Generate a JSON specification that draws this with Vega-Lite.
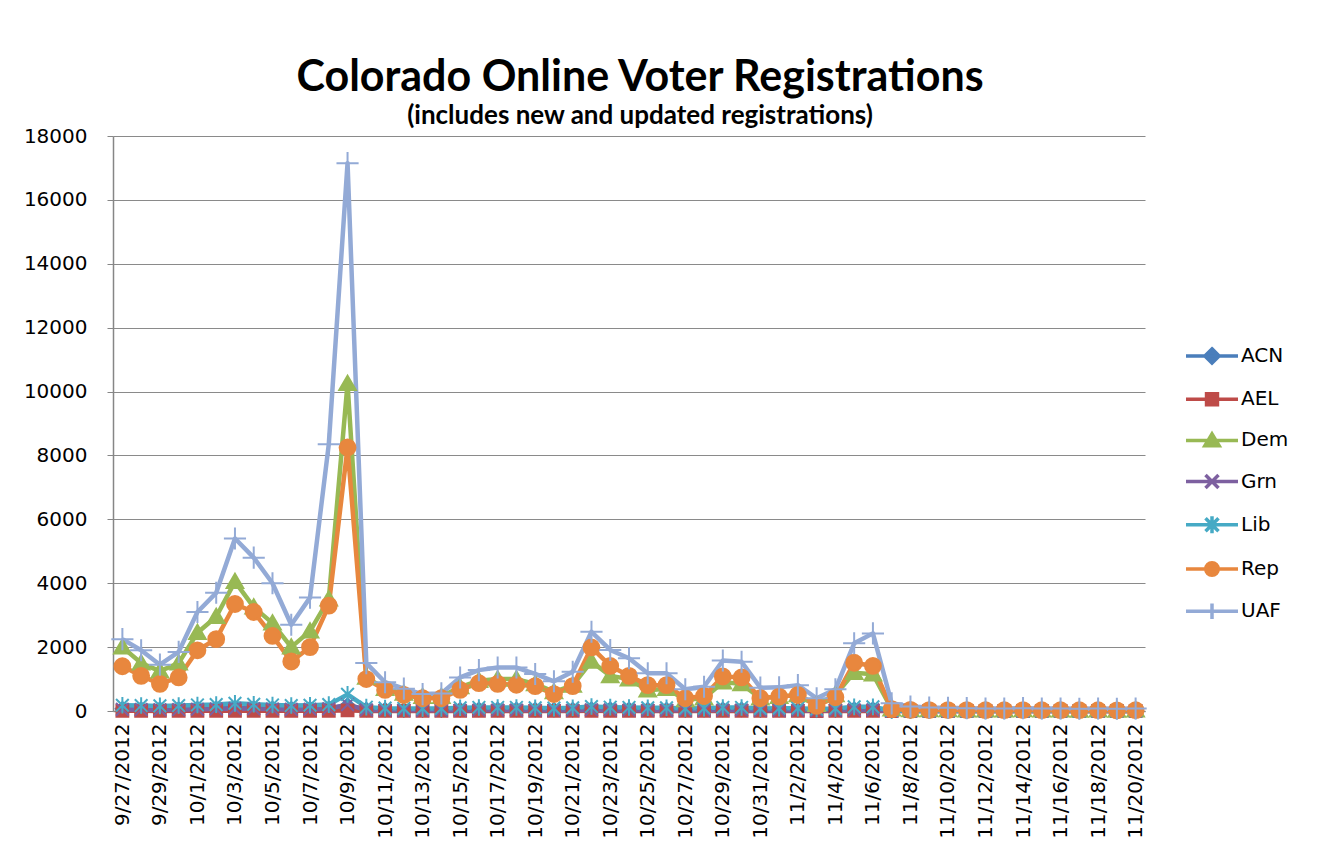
{
"$schema": "https://vega.github.io/schema/vega-lite/v6.json",
"width": 1032, "height": 575,
"autosize": {"type": "none"},
"padding": {"left": 113, "top": 136, "right": 177, "bottom": 140},
"background": "white",
"title": {"text": "Colorado Online Voter Registrations", "subtitle": "(includes new and updated registrations)", "font": "Lato", "fontSize": 43, "fontWeight": "bold", "subtitleFont": "Lato", "subtitleFontSize": 26, "subtitleFontWeight": "bold", "anchor": "middle", "dx": 11, "offset": -3, "color": "black", "subtitleColor": "black", "subtitlePadding": 3},
"config": {"view": {"stroke": null}},
"datasets": {"reg": [
{"d":"9/27/2012","s":"ACN","v":70},{"d":"9/28/2012","s":"ACN","v":60},{"d":"9/29/2012","s":"ACN","v":55},{"d":"9/30/2012","s":"ACN","v":60},{"d":"10/1/2012","s":"ACN","v":75},{"d":"10/2/2012","s":"ACN","v":80},{"d":"10/3/2012","s":"ACN","v":100},{"d":"10/4/2012","s":"ACN","v":90},{"d":"10/5/2012","s":"ACN","v":80},{"d":"10/6/2012","s":"ACN","v":70},{"d":"10/7/2012","s":"ACN","v":75},{"d":"10/8/2012","s":"ACN","v":85},{"d":"10/9/2012","s":"ACN","v":180},{"d":"10/10/2012","s":"ACN","v":50},{"d":"10/11/2012","s":"ACN","v":40},{"d":"10/12/2012","s":"ACN","v":35},{"d":"10/13/2012","s":"ACN","v":35},{"d":"10/14/2012","s":"ACN","v":35},{"d":"10/15/2012","s":"ACN","v":45},{"d":"10/16/2012","s":"ACN","v":50},{"d":"10/17/2012","s":"ACN","v":50},{"d":"10/18/2012","s":"ACN","v":50},{"d":"10/19/2012","s":"ACN","v":45},{"d":"10/20/2012","s":"ACN","v":40},{"d":"10/21/2012","s":"ACN","v":45},{"d":"10/22/2012","s":"ACN","v":60},{"d":"10/23/2012","s":"ACN","v":55},{"d":"10/24/2012","s":"ACN","v":50},{"d":"10/25/2012","s":"ACN","v":45},{"d":"10/26/2012","s":"ACN","v":45},{"d":"10/27/2012","s":"ACN","v":35},{"d":"10/28/2012","s":"ACN","v":40},{"d":"10/29/2012","s":"ACN","v":50},{"d":"10/30/2012","s":"ACN","v":50},{"d":"10/31/2012","s":"ACN","v":35},{"d":"11/1/2012","s":"ACN","v":40},{"d":"11/2/2012","s":"ACN","v":40},{"d":"11/3/2012","s":"ACN","v":30},{"d":"11/4/2012","s":"ACN","v":35},{"d":"11/5/2012","s":"ACN","v":55},{"d":"11/6/2012","s":"ACN","v":55},{"d":"11/7/2012","s":"ACN","v":5},{"d":"11/8/2012","s":"ACN","v":4},{"d":"11/9/2012","s":"ACN","v":3},{"d":"11/10/2012","s":"ACN","v":3},{"d":"11/11/2012","s":"ACN","v":3},{"d":"11/12/2012","s":"ACN","v":2},{"d":"11/13/2012","s":"ACN","v":2},{"d":"11/14/2012","s":"ACN","v":3},{"d":"11/15/2012","s":"ACN","v":2},{"d":"11/16/2012","s":"ACN","v":2},{"d":"11/17/2012","s":"ACN","v":2},{"d":"11/18/2012","s":"ACN","v":2},{"d":"11/19/2012","s":"ACN","v":2},{"d":"11/20/2012","s":"ACN","v":2},
{"d":"9/27/2012","s":"AEL","v":5},{"d":"9/28/2012","s":"AEL","v":4},{"d":"9/29/2012","s":"AEL","v":3},{"d":"9/30/2012","s":"AEL","v":4},{"d":"10/1/2012","s":"AEL","v":6},{"d":"10/2/2012","s":"AEL","v":6},{"d":"10/3/2012","s":"AEL","v":8},{"d":"10/4/2012","s":"AEL","v":7},{"d":"10/5/2012","s":"AEL","v":6},{"d":"10/6/2012","s":"AEL","v":5},{"d":"10/7/2012","s":"AEL","v":5},{"d":"10/8/2012","s":"AEL","v":7},{"d":"10/9/2012","s":"AEL","v":20},{"d":"10/10/2012","s":"AEL","v":3},{"d":"10/11/2012","s":"AEL","v":3},{"d":"10/12/2012","s":"AEL","v":2},{"d":"10/13/2012","s":"AEL","v":2},{"d":"10/14/2012","s":"AEL","v":2},{"d":"10/15/2012","s":"AEL","v":3},{"d":"10/16/2012","s":"AEL","v":3},{"d":"10/17/2012","s":"AEL","v":3},{"d":"10/18/2012","s":"AEL","v":3},{"d":"10/19/2012","s":"AEL","v":3},{"d":"10/20/2012","s":"AEL","v":2},{"d":"10/21/2012","s":"AEL","v":3},{"d":"10/22/2012","s":"AEL","v":4},{"d":"10/23/2012","s":"AEL","v":3},{"d":"10/24/2012","s":"AEL","v":3},{"d":"10/25/2012","s":"AEL","v":3},{"d":"10/26/2012","s":"AEL","v":3},{"d":"10/27/2012","s":"AEL","v":2},{"d":"10/28/2012","s":"AEL","v":2},{"d":"10/29/2012","s":"AEL","v":3},{"d":"10/30/2012","s":"AEL","v":3},{"d":"10/31/2012","s":"AEL","v":2},{"d":"11/1/2012","s":"AEL","v":2},{"d":"11/2/2012","s":"AEL","v":2},{"d":"11/3/2012","s":"AEL","v":1},{"d":"11/4/2012","s":"AEL","v":2},{"d":"11/5/2012","s":"AEL","v":3},{"d":"11/6/2012","s":"AEL","v":3},{"d":"11/7/2012","s":"AEL","v":0},{"d":"11/8/2012","s":"AEL","v":0},{"d":"11/9/2012","s":"AEL","v":0},{"d":"11/10/2012","s":"AEL","v":0},{"d":"11/11/2012","s":"AEL","v":0},{"d":"11/12/2012","s":"AEL","v":0},{"d":"11/13/2012","s":"AEL","v":0},{"d":"11/14/2012","s":"AEL","v":0},{"d":"11/15/2012","s":"AEL","v":0},{"d":"11/16/2012","s":"AEL","v":0},{"d":"11/17/2012","s":"AEL","v":0},{"d":"11/18/2012","s":"AEL","v":0},{"d":"11/19/2012","s":"AEL","v":0},{"d":"11/20/2012","s":"AEL","v":0},
{"d":"9/27/2012","s":"Dem","v":2000},{"d":"9/28/2012","s":"Dem","v":1500},{"d":"9/29/2012","s":"Dem","v":1250},{"d":"9/30/2012","s":"Dem","v":1500},{"d":"10/1/2012","s":"Dem","v":2450},{"d":"10/2/2012","s":"Dem","v":2950},{"d":"10/3/2012","s":"Dem","v":4050},{"d":"10/4/2012","s":"Dem","v":3250},{"d":"10/5/2012","s":"Dem","v":2750},{"d":"10/6/2012","s":"Dem","v":2000},{"d":"10/7/2012","s":"Dem","v":2500},{"d":"10/8/2012","s":"Dem","v":3500},{"d":"10/9/2012","s":"Dem","v":10250},{"d":"10/10/2012","s":"Dem","v":1050},{"d":"10/11/2012","s":"Dem","v":700},{"d":"10/12/2012","s":"Dem","v":550},{"d":"10/13/2012","s":"Dem","v":450},{"d":"10/14/2012","s":"Dem","v":450},{"d":"10/15/2012","s":"Dem","v":750},{"d":"10/16/2012","s":"Dem","v":950},{"d":"10/17/2012","s":"Dem","v":1000},{"d":"10/18/2012","s":"Dem","v":1000},{"d":"10/19/2012","s":"Dem","v":850},{"d":"10/20/2012","s":"Dem","v":600},{"d":"10/21/2012","s":"Dem","v":800},{"d":"10/22/2012","s":"Dem","v":1550},{"d":"10/23/2012","s":"Dem","v":1100},{"d":"10/24/2012","s":"Dem","v":1000},{"d":"10/25/2012","s":"Dem","v":650},{"d":"10/26/2012","s":"Dem","v":700},{"d":"10/27/2012","s":"Dem","v":350},{"d":"10/28/2012","s":"Dem","v":400},{"d":"10/29/2012","s":"Dem","v":900},{"d":"10/30/2012","s":"Dem","v":850},{"d":"10/31/2012","s":"Dem","v":400},{"d":"11/1/2012","s":"Dem","v":450},{"d":"11/2/2012","s":"Dem","v":500},{"d":"11/3/2012","s":"Dem","v":200},{"d":"11/4/2012","s":"Dem","v":500},{"d":"11/5/2012","s":"Dem","v":1200},{"d":"11/6/2012","s":"Dem","v":1150},{"d":"11/7/2012","s":"Dem","v":60},{"d":"11/8/2012","s":"Dem","v":35},{"d":"11/9/2012","s":"Dem","v":30},{"d":"11/10/2012","s":"Dem","v":30},{"d":"11/11/2012","s":"Dem","v":25},{"d":"11/12/2012","s":"Dem","v":25},{"d":"11/13/2012","s":"Dem","v":25},{"d":"11/14/2012","s":"Dem","v":30},{"d":"11/15/2012","s":"Dem","v":25},{"d":"11/16/2012","s":"Dem","v":25},{"d":"11/17/2012","s":"Dem","v":20},{"d":"11/18/2012","s":"Dem","v":25},{"d":"11/19/2012","s":"Dem","v":20},{"d":"11/20/2012","s":"Dem","v":25},
{"d":"9/27/2012","s":"Grn","v":50},{"d":"9/28/2012","s":"Grn","v":45},{"d":"9/29/2012","s":"Grn","v":40},{"d":"9/30/2012","s":"Grn","v":45},{"d":"10/1/2012","s":"Grn","v":55},{"d":"10/2/2012","s":"Grn","v":60},{"d":"10/3/2012","s":"Grn","v":75},{"d":"10/4/2012","s":"Grn","v":70},{"d":"10/5/2012","s":"Grn","v":60},{"d":"10/6/2012","s":"Grn","v":50},{"d":"10/7/2012","s":"Grn","v":55},{"d":"10/8/2012","s":"Grn","v":70},{"d":"10/9/2012","s":"Grn","v":200},{"d":"10/10/2012","s":"Grn","v":35},{"d":"10/11/2012","s":"Grn","v":25},{"d":"10/12/2012","s":"Grn","v":20},{"d":"10/13/2012","s":"Grn","v":20},{"d":"10/14/2012","s":"Grn","v":20},{"d":"10/15/2012","s":"Grn","v":25},{"d":"10/16/2012","s":"Grn","v":30},{"d":"10/17/2012","s":"Grn","v":30},{"d":"10/18/2012","s":"Grn","v":30},{"d":"10/19/2012","s":"Grn","v":25},{"d":"10/20/2012","s":"Grn","v":25},{"d":"10/21/2012","s":"Grn","v":25},{"d":"10/22/2012","s":"Grn","v":40},{"d":"10/23/2012","s":"Grn","v":35},{"d":"10/24/2012","s":"Grn","v":30},{"d":"10/25/2012","s":"Grn","v":25},{"d":"10/26/2012","s":"Grn","v":25},{"d":"10/27/2012","s":"Grn","v":20},{"d":"10/28/2012","s":"Grn","v":20},{"d":"10/29/2012","s":"Grn","v":30},{"d":"10/30/2012","s":"Grn","v":30},{"d":"10/31/2012","s":"Grn","v":20},{"d":"11/1/2012","s":"Grn","v":20},{"d":"11/2/2012","s":"Grn","v":25},{"d":"11/3/2012","s":"Grn","v":15},{"d":"11/4/2012","s":"Grn","v":20},{"d":"11/5/2012","s":"Grn","v":35},{"d":"11/6/2012","s":"Grn","v":35},{"d":"11/7/2012","s":"Grn","v":1},{"d":"11/8/2012","s":"Grn","v":1},{"d":"11/9/2012","s":"Grn","v":1},{"d":"11/10/2012","s":"Grn","v":1},{"d":"11/11/2012","s":"Grn","v":1},{"d":"11/12/2012","s":"Grn","v":1},{"d":"11/13/2012","s":"Grn","v":1},{"d":"11/14/2012","s":"Grn","v":1},{"d":"11/15/2012","s":"Grn","v":1},{"d":"11/16/2012","s":"Grn","v":1},{"d":"11/17/2012","s":"Grn","v":1},{"d":"11/18/2012","s":"Grn","v":1},{"d":"11/19/2012","s":"Grn","v":1},{"d":"11/20/2012","s":"Grn","v":1},
{"d":"9/27/2012","s":"Lib","v":180},{"d":"9/28/2012","s":"Lib","v":170},{"d":"9/29/2012","s":"Lib","v":160},{"d":"9/30/2012","s":"Lib","v":170},{"d":"10/1/2012","s":"Lib","v":190},{"d":"10/2/2012","s":"Lib","v":200},{"d":"10/3/2012","s":"Lib","v":240},{"d":"10/4/2012","s":"Lib","v":210},{"d":"10/5/2012","s":"Lib","v":190},{"d":"10/6/2012","s":"Lib","v":170},{"d":"10/7/2012","s":"Lib","v":180},{"d":"10/8/2012","s":"Lib","v":200},{"d":"10/9/2012","s":"Lib","v":520},{"d":"10/10/2012","s":"Lib","v":120},{"d":"10/11/2012","s":"Lib","v":90},{"d":"10/12/2012","s":"Lib","v":80},{"d":"10/13/2012","s":"Lib","v":80},{"d":"10/14/2012","s":"Lib","v":80},{"d":"10/15/2012","s":"Lib","v":100},{"d":"10/16/2012","s":"Lib","v":110},{"d":"10/17/2012","s":"Lib","v":110},{"d":"10/18/2012","s":"Lib","v":110},{"d":"10/19/2012","s":"Lib","v":100},{"d":"10/20/2012","s":"Lib","v":90},{"d":"10/21/2012","s":"Lib","v":100},{"d":"10/22/2012","s":"Lib","v":140},{"d":"10/23/2012","s":"Lib","v":120},{"d":"10/24/2012","s":"Lib","v":110},{"d":"10/25/2012","s":"Lib","v":100},{"d":"10/26/2012","s":"Lib","v":100},{"d":"10/27/2012","s":"Lib","v":80},{"d":"10/28/2012","s":"Lib","v":90},{"d":"10/29/2012","s":"Lib","v":110},{"d":"10/30/2012","s":"Lib","v":110},{"d":"10/31/2012","s":"Lib","v":80},{"d":"11/1/2012","s":"Lib","v":90},{"d":"11/2/2012","s":"Lib","v":90},{"d":"11/3/2012","s":"Lib","v":60},{"d":"11/4/2012","s":"Lib","v":80},{"d":"11/5/2012","s":"Lib","v":130},{"d":"11/6/2012","s":"Lib","v":130},{"d":"11/7/2012","s":"Lib","v":15},{"d":"11/8/2012","s":"Lib","v":10},{"d":"11/9/2012","s":"Lib","v":8},{"d":"11/10/2012","s":"Lib","v":8},{"d":"11/11/2012","s":"Lib","v":6},{"d":"11/12/2012","s":"Lib","v":5},{"d":"11/13/2012","s":"Lib","v":5},{"d":"11/14/2012","s":"Lib","v":6},{"d":"11/15/2012","s":"Lib","v":5},{"d":"11/16/2012","s":"Lib","v":5},{"d":"11/17/2012","s":"Lib","v":4},{"d":"11/18/2012","s":"Lib","v":5},{"d":"11/19/2012","s":"Lib","v":4},{"d":"11/20/2012","s":"Lib","v":5},
{"d":"9/27/2012","s":"Rep","v":1400},{"d":"9/28/2012","s":"Rep","v":1100},{"d":"9/29/2012","s":"Rep","v":850},{"d":"9/30/2012","s":"Rep","v":1050},{"d":"10/1/2012","s":"Rep","v":1900},{"d":"10/2/2012","s":"Rep","v":2250},{"d":"10/3/2012","s":"Rep","v":3350},{"d":"10/4/2012","s":"Rep","v":3100},{"d":"10/5/2012","s":"Rep","v":2350},{"d":"10/6/2012","s":"Rep","v":1550},{"d":"10/7/2012","s":"Rep","v":2000},{"d":"10/8/2012","s":"Rep","v":3300},{"d":"10/9/2012","s":"Rep","v":8250},{"d":"10/10/2012","s":"Rep","v":1000},{"d":"10/11/2012","s":"Rep","v":660},{"d":"10/12/2012","s":"Rep","v":500},{"d":"10/13/2012","s":"Rep","v":400},{"d":"10/14/2012","s":"Rep","v":400},{"d":"10/15/2012","s":"Rep","v":660},{"d":"10/16/2012","s":"Rep","v":870},{"d":"10/17/2012","s":"Rep","v":850},{"d":"10/18/2012","s":"Rep","v":820},{"d":"10/19/2012","s":"Rep","v":780},{"d":"10/20/2012","s":"Rep","v":530},{"d":"10/21/2012","s":"Rep","v":780},{"d":"10/22/2012","s":"Rep","v":1990},{"d":"10/23/2012","s":"Rep","v":1410},{"d":"10/24/2012","s":"Rep","v":1100},{"d":"10/25/2012","s":"Rep","v":810},{"d":"10/26/2012","s":"Rep","v":810},{"d":"10/27/2012","s":"Rep","v":400},{"d":"10/28/2012","s":"Rep","v":470},{"d":"10/29/2012","s":"Rep","v":1080},{"d":"10/30/2012","s":"Rep","v":1050},{"d":"10/31/2012","s":"Rep","v":400},{"d":"11/1/2012","s":"Rep","v":450},{"d":"11/2/2012","s":"Rep","v":500},{"d":"11/3/2012","s":"Rep","v":160},{"d":"11/4/2012","s":"Rep","v":430},{"d":"11/5/2012","s":"Rep","v":1510},{"d":"11/6/2012","s":"Rep","v":1410},{"d":"11/7/2012","s":"Rep","v":60},{"d":"11/8/2012","s":"Rep","v":35},{"d":"11/9/2012","s":"Rep","v":30},{"d":"11/10/2012","s":"Rep","v":30},{"d":"11/11/2012","s":"Rep","v":30},{"d":"11/12/2012","s":"Rep","v":25},{"d":"11/13/2012","s":"Rep","v":25},{"d":"11/14/2012","s":"Rep","v":30},{"d":"11/15/2012","s":"Rep","v":25},{"d":"11/16/2012","s":"Rep","v":25},{"d":"11/17/2012","s":"Rep","v":25},{"d":"11/18/2012","s":"Rep","v":25},{"d":"11/19/2012","s":"Rep","v":20},{"d":"11/20/2012","s":"Rep","v":25},
{"d":"9/27/2012","s":"UAF","v":2250},{"d":"9/28/2012","s":"UAF","v":1900},{"d":"9/29/2012","s":"UAF","v":1450},{"d":"9/30/2012","s":"UAF","v":1850},{"d":"10/1/2012","s":"UAF","v":3100},{"d":"10/2/2012","s":"UAF","v":3700},{"d":"10/3/2012","s":"UAF","v":5400},{"d":"10/4/2012","s":"UAF","v":4800},{"d":"10/5/2012","s":"UAF","v":4000},{"d":"10/6/2012","s":"UAF","v":2700},{"d":"10/7/2012","s":"UAF","v":3550},{"d":"10/8/2012","s":"UAF","v":8350},{"d":"10/9/2012","s":"UAF","v":17150},{"d":"10/10/2012","s":"UAF","v":1500},{"d":"10/11/2012","s":"UAF","v":900},{"d":"10/12/2012","s":"UAF","v":700},{"d":"10/13/2012","s":"UAF","v":530},{"d":"10/14/2012","s":"UAF","v":550},{"d":"10/15/2012","s":"UAF","v":1050},{"d":"10/16/2012","s":"UAF","v":1280},{"d":"10/17/2012","s":"UAF","v":1360},{"d":"10/18/2012","s":"UAF","v":1360},{"d":"10/19/2012","s":"UAF","v":1160},{"d":"10/20/2012","s":"UAF","v":930},{"d":"10/21/2012","s":"UAF","v":1230},{"d":"10/22/2012","s":"UAF","v":2480},{"d":"10/23/2012","s":"UAF","v":1910},{"d":"10/24/2012","s":"UAF","v":1650},{"d":"10/25/2012","s":"UAF","v":1180},{"d":"10/26/2012","s":"UAF","v":1180},{"d":"10/27/2012","s":"UAF","v":680},{"d":"10/28/2012","s":"UAF","v":760},{"d":"10/29/2012","s":"UAF","v":1580},{"d":"10/30/2012","s":"UAF","v":1540},{"d":"10/31/2012","s":"UAF","v":730},{"d":"11/1/2012","s":"UAF","v":740},{"d":"11/2/2012","s":"UAF","v":810},{"d":"11/3/2012","s":"UAF","v":400},{"d":"11/4/2012","s":"UAF","v":680},{"d":"11/5/2012","s":"UAF","v":2120},{"d":"11/6/2012","s":"UAF","v":2430},{"d":"11/7/2012","s":"UAF","v":240},{"d":"11/8/2012","s":"UAF","v":140},{"d":"11/9/2012","s":"UAF","v":110},{"d":"11/10/2012","s":"UAF","v":100},{"d":"11/11/2012","s":"UAF","v":90},{"d":"11/12/2012","s":"UAF","v":80},{"d":"11/13/2012","s":"UAF","v":80},{"d":"11/14/2012","s":"UAF","v":90},{"d":"11/15/2012","s":"UAF","v":80},{"d":"11/16/2012","s":"UAF","v":80},{"d":"11/17/2012","s":"UAF","v":70},{"d":"11/18/2012","s":"UAF","v":80},{"d":"11/19/2012","s":"UAF","v":70},{"d":"11/20/2012","s":"UAF","v":80}
]},
"data": {"name": "reg"},
"encoding": {
  "x": {"field": "d", "type": "ordinal", "sort": null, "scale": {"type": "point", "padding": 0.5},
    "axis": {"title": null, "labelAngle": -90, "labelFont": "DejaVu Sans", "labelFontSize": 20, "labelColor": "black", "labelPadding": 12, "domainColor": "#868686", "domainWidth": 1.5, "ticks": false, "grid": false,
      "values": ["9/27/2012","9/29/2012","10/1/2012","10/3/2012","10/5/2012","10/7/2012","10/9/2012","10/11/2012","10/13/2012","10/15/2012","10/17/2012","10/19/2012","10/21/2012","10/23/2012","10/25/2012","10/27/2012","10/29/2012","10/31/2012","11/2/2012","11/4/2012","11/6/2012","11/8/2012","11/10/2012","11/12/2012","11/14/2012","11/16/2012","11/18/2012","11/20/2012"]}},
  "y": {"field": "v", "type": "quantitative", "scale": {"domain": [0, 18000], "nice": false, "zero": true},
    "axis": {"title": null, "values": [0,2000,4000,6000,8000,10000,12000,14000,16000,18000], "format": "d", "labelFont": "DejaVu Sans", "labelFontSize": 20, "labelColor": "black", "labelPadding": 20, "tickSize": 6, "tickColor": "#868686", "domainColor": "#868686", "domainWidth": 1.5, "grid": true, "gridColor": "#8a8a8a", "gridWidth": 1.2}}
},
"resolve": {"scale": {"color": "independent"}, "legend": {"color": "independent"}},
"layer": [
  {"mark": {"type": "line", "strokeWidth": 4.5, "strokeJoin": "round"},
   "encoding": {"color": {"field": "s", "type": "nominal", "title": null, "scale": {"domain": ["ACN","AEL","Dem","Grn","Lib","Rep","UAF"], "range": ["#4A7EBB","#BE4B48","#98B954","#7D60A0","#46AAC5","#E8873E","#93AAD6"]},
       "legend": {"orient": "none", "legendX": 1084, "legendY": 205, "padding": 0, "symbolSize": 676, "symbolStrokeWidth": 3.5, "rowPadding": 13.2, "labelOffset": 14, "labelFont": "DejaVu Sans", "labelFontSize": 20, "labelColor": "black",
         "encode": {"symbols": {"update": {
           "shape": {"signal": "datum.value === 'ACN' ? 'M-2,0L2,0M0,-0.55L0.55,0L0,0.55L-0.55,0Z' : datum.value === 'AEL' ? 'M-2,0L2,0M-0.42,-0.42L0.42,-0.42L0.42,0.42L-0.42,0.42Z' : datum.value === 'Dem' ? 'M-2,0L2,0M0,-0.5L0.55,0.42L-0.55,0.42Z' : datum.value === 'Grn' ? 'M-2,0L2,0M-0.5,-0.5L0.5,0.5M-0.5,0.5L0.5,-0.5' : datum.value === 'Lib' ? 'M-2,0L2,0M-0.5,-0.5L0.5,0.5M-0.5,0.5L0.5,-0.5M0,-0.65L0,0.65' : datum.value === 'Rep' ? 'M-2,0L2,0M-0.48,0A0.48,0.48 0 1,0 0.48,0A0.48,0.48 0 1,0 -0.48,0Z' : 'M-2,0L2,0M0,-0.6L0,0.6'"},
           "stroke": {"signal": "datum.value === 'ACN' ? '#4A7EBB' : datum.value === 'AEL' ? '#BE4B48' : datum.value === 'Dem' ? '#98B954' : datum.value === 'Grn' ? '#7D60A0' : datum.value === 'Lib' ? '#46AAC5' : datum.value === 'Rep' ? '#E8873E' : '#93AAD6'"},
           "fill": {"signal": "datum.value === 'ACN' ? '#4A7EBB' : datum.value === 'AEL' ? '#BE4B48' : datum.value === 'Dem' ? '#98B954' : datum.value === 'Grn' ? '#7D60A0' : datum.value === 'Lib' ? '#46AAC5' : datum.value === 'Rep' ? '#E8873E' : '#93AAD6'"},
           "strokeWidth": {"value": 3.5},
           "opacity": {"value": 1}}}}}}}},
  {"mark": {"type": "point", "filled": true, "size": 250, "opacity": 1, "strokeWidth": 2},
   "encoding": {
     "color": {"field": "s", "type": "nominal", "legend": null, "scale": {"domain": ["ACN","AEL","Dem","Grn","Lib","Rep","UAF"], "range": ["#4A7EBB","#BE4B48","#98B954","#7D60A0","#46AAC5","#E8873E","#93AAD6"]}},
     "stroke": {"field": "s", "type": "nominal", "scale": {"domain": ["ACN","AEL","Dem","Grn","Lib","Rep","UAF"], "range": ["#4A7EBB","#BE4B48","#98B954","#7D60A0","#46AAC5","#E8873E","#93AAD6"]}, "legend": null},
     "shape": {"field": "s", "type": "nominal", "legend": null, "scale": {"domain": ["ACN","AEL","Dem","Grn","Lib","Rep","UAF"], "range": ["M0,-0.85L0.85,0L0,0.85L-0.85,0Z","M-0.75,-0.75L0.75,-0.75L0.75,0.75L-0.75,0.75Z","M0,-1L1.05,0.8L-1.05,0.8Z","M-0.8,-0.8L0.8,0.8M-0.8,0.8L0.8,-0.8","M-0.8,-0.8L0.8,0.8M-0.8,0.8L0.8,-0.8M0,-1.05L0,1.05","circle","M-1.4,0L1.4,0M0,-1.4L0,1.4"]}}
   }}
]
}
